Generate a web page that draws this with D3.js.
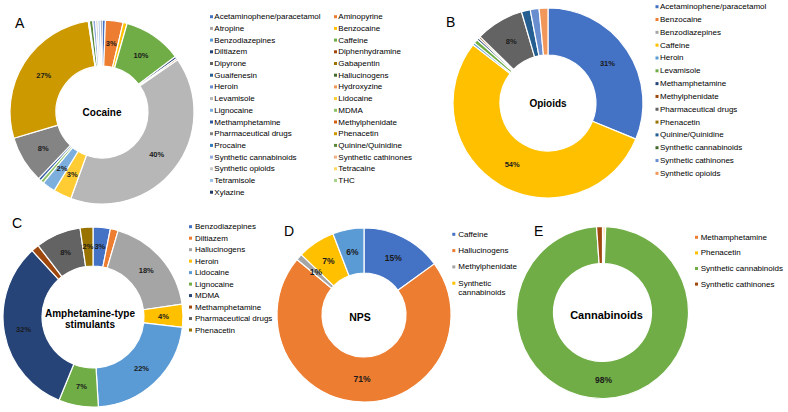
<!DOCTYPE html>
<html><head><meta charset="utf-8">
<script src="https://cdn.jsdelivr.net/npm/d3@7"></script>
<style>
html,body{margin:0;padding:0;background:#fff;}
svg{display:block;font-family:"Liberation Sans",Arial,sans-serif;}
</style>
</head><body>
<svg id="chart" width="788" height="412"></svg>
<script>
// ---------- DATA ----------
const cocaineCategories = ["Acetaminophene/paracetamol","Aminopyrine","Atropine","Benzocaine","Benzodiazepines","Caffeine","Diltiazem","Diphenhydramine","Dipyrone","Gabapentin","Guaifenesin","Hallucinogens","Heroin","Hydroxyzine","Levamisole","Lidocaine","Lignocaine","MDMA","Methamphetamine","Methylphenidate","Pharmaceutical drugs","Phenacetin","Procaine","Quinine/Quinidine","Synthetic cannabinoids","Synthetic cathinones","Synthetic opioids","Tetracaine","Tetramisole","THC","Xylazine"];
const cocaineValues = [0.6,3.1,0,0.7,0,10.3,0.4,0.3,0,0,0,0,0,0,40.1,3.2,2.3,0.6,0.5,0,8.3,27.2,0.2,0.6,0.5,0,0.4,0,0.4,0,0.3];

const opioidCategories = ["Acetaminophene/paracetamol","Benzocaine","Benzodiazepines","Caffeine","Heroin","Levamisole","Methamphetamine","Methylphenidate","Pharmaceutical drugs","Phenacetin","Quinine/Quinidine","Synthetic cannabinoids","Synthetic cathinones","Synthetic opioids"];
const opioidValues = [31.2,0,0,54.3,0.4,0.7,0.4,0.3,8.2,0,1.5,0,1.5,1.5];

const atsCategories = ["Benzodiazepines","Diltiazem","Hallucinogens","Heroin","Lidocaine","Lignocaine","MDMA","Methamphetamine","Pharmaceutical drugs","Phenacetin"];
const atsValues = [3.1,1.4,18.2,4.1,22.2,7.1,32.0,1.4,8.1,2.3];

const npsCategories = ["Caffeine","Hallucinogens","Methylphenidate","Synthetic cannabinoids","Synthetic cathinones"];
const npsValues = [15.0,71.0,1.2,7.0,5.8];

const cannabinoidCategories = ["Methamphetamine","Phenacetin","Synthetic cannabinoids","Synthetic cathinones"];
const cannabinoidValues = [0.3,0.3,98.3,1.1];

const panelLetters = ["A","B","C","D","E"];
const panelTitles = [["Cocaine"],["Opioids"],["Amphetamine-type","stimulants"],["NPS"],["Cannabinoids"]];

// ---------- STYLE / LAYOUT ----------
const excelPalette = ["#4472C4","#ED7D31","#A5A5A5","#FFC000","#5B9BD5","#70AD47","#264478","#9E480E","#636363","#997300","#255E91","#43682B","#698ED0","#F1975A","#B7B7B7","#FFCD33","#7CAFDD","#8CC168","#335AA1","#D26012","#848484","#CC9A00","#327DC2","#5A8A39","#8FAADC","#F4B183","#C9C9C9","#FFD966","#9DC3E6","#A9D18E","#203864"];

const panels = [
  {cats:cocaineCategories, vals:cocaineValues, colorIdx:null, cx:102, cy:112, R:92, r:46,
   lx:[210,334], ly0:16.7, ldy:11.7, lto:4.3, cols:2, lcount:31, wrap:0,
   letter:[15,28], labelSize:7.5, titleSize:10, titleDx:0, titleDy:0, minLabel:2},
  {cats:opioidCategories, vals:opioidValues, colorIdx:null, cx:548, cy:103, R:95, r:48,
   lx:[655.5], ly0:6.7, ldy:12.82, lto:4.5, cols:1, lcount:14, wrap:0,
   letter:[446,27], labelSize:7.5, titleSize:10, titleDx:0, titleDy:0, minLabel:5},
  {cats:atsCategories, vals:atsValues, colorIdx:null, cx:93, cy:317, R:90, r:51,
   lx:[189], ly0:226.7, ldy:11.48, lto:6, cols:1, lcount:10, wrap:0,
   letter:[12,228], labelSize:7.5, titleSize:10, titleDx:-3, titleDy:2, minLabel:2},
  {cats:npsCategories, vals:npsValues, colorIdx:null, cx:364, cy:315, R:87, r:42,
   lx:[452.3], ly0:234.3, ldy:16.3, lto:6, cols:1, lcount:4, wrap:70,
   letter:[284,236], labelSize:8.5, titleSize:10.5, titleDx:-4, titleDy:2, minLabel:1},
  {cats:cannabinoidCategories, vals:cannabinoidValues, colorIdx:[1,3,5,7], cx:602.5, cy:312.5, R:86, r:49,
   lx:[695], ly0:237.3, ldy:15.6, lto:5.7, cols:1, lcount:4, wrap:0,
   letter:[534,236], labelSize:8.5, titleSize:11, titleDx:4, titleDy:2, minLabel:5}
];

const svg = d3.select("#chart");

panels.forEach((p, pi) => {
  const data = p.cats.map((c, i) => ({name:c, value:p.vals[i], color: excelPalette[p.colorIdx ? p.colorIdx[i] : i]}));
  const total = d3.sum(data, d => d.value);
  const pie = d3.pie().sort(null).value(d => d.value);
  const arc = d3.arc().innerRadius(p.r).outerRadius(p.R);
  const arcs = pie(data);

  const g = svg.append("g").attr("transform", `translate(${p.cx},${p.cy})`);
  g.selectAll("path").data(arcs.filter(d => d.value > 0)).join("path")
    .attr("d", arc)
    .attr("fill", d => d.data.color)
    .attr("stroke", "#fff")
    .attr("stroke-width", 1.2)
    .attr("stroke-linejoin", "round");

  g.selectAll("text.pct").data(arcs.filter(d => Math.round(d.value / total * 100) >= p.minLabel)).join("text")
    .attr("class", "pct")
    .attr("transform", d => `translate(${arc.centroid(d)})`)
    .attr("text-anchor", "middle")
    .attr("dominant-baseline", "central")
    .attr("font-size", p.labelSize)
    .attr("font-weight", "bold")
    .attr("fill", "#1a1a1a")
    .text(d => Math.round(d.value / total * 100) + "%");

  // centre title
  const lines = panelTitles[pi];
  const lh = p.titleSize * 1.1;
  g.append("text")
    .attr("text-anchor", "middle")
    .attr("font-size", p.titleSize)
    .attr("font-weight", "bold")
    .attr("fill", "#000")
    .selectAll("tspan").data(lines).join("tspan")
    .attr("x", p.titleDx)
    .attr("y", (d, i) => p.titleDy + (i - (lines.length - 1) / 2) * lh)
    .attr("dominant-baseline", "central")
    .text(d => d);

  // panel letter
  svg.append("text")
    .attr("x", p.letter[0]).attr("y", p.letter[1])
    .attr("font-size", 14).attr("fill", "#000")
    .text(panelLetters[pi]);

  // legend
  const lg = svg.append("g");
  data.slice(0, p.lcount).forEach((d, i) => {
    const col = i % p.cols, row = Math.floor(i / p.cols);
    const x = p.lx[col], y = p.ly0 + row * p.ldy;
    lg.append("rect").attr("x", x).attr("y", y - 1.5).attr("width", 3).attr("height", 3).attr("fill", d.color);
    const t = lg.append("text").attr("x", x + p.lto).attr("y", y)
      .attr("dominant-baseline", "central")
      .attr("font-size", 8).attr("fill", "#000")
      .text(d.name);
    if (p.wrap && t.node().getComputedTextLength() > p.wrap) {
      const words = d.name.split(" ");
      t.text(null);
      let line = [], lineNo = 0;
      let ts = t.append("tspan").attr("x", x + p.lto).attr("y", y);
      words.forEach(w => {
        line.push(w);
        ts.text(line.join(" "));
        if (ts.node().getComputedTextLength() > p.wrap && line.length > 1) {
          line.pop(); ts.text(line.join(" "));
          line = [w]; lineNo++;
          ts = t.append("tspan").attr("x", x + p.lto).attr("y", y + lineNo * 9).text(w);
        }
      });
    }
  });
});
</script>
</body></html>
